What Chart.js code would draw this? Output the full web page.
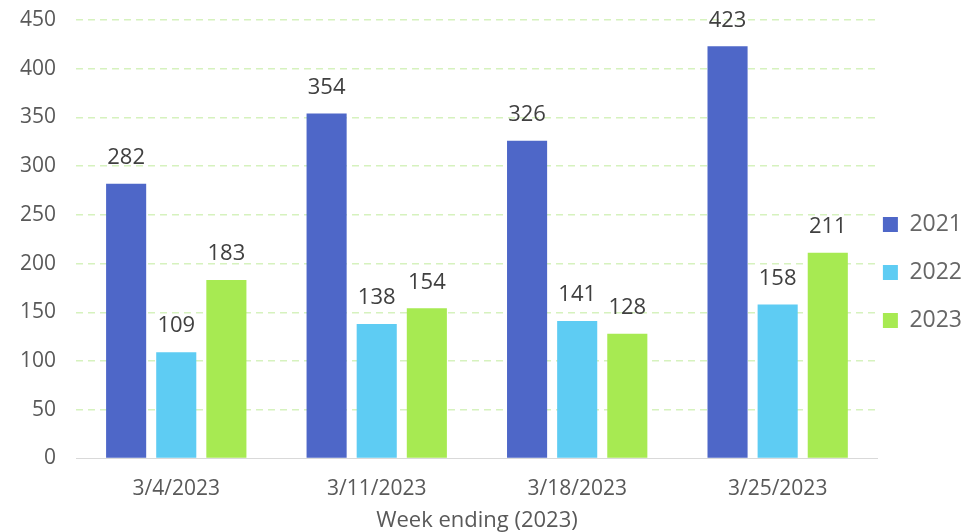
<!DOCTYPE html>
<html>
<head>
<meta charset="utf-8">
<script src="https://cdn.jsdelivr.net/npm/chart.js@4"></script>
<style>
  html, body { margin: 0; padding: 0; background: #fff; }
  #wrap { width: 976px; height: 532px; }
</style>
</head>
<body>
<div id="wrap"><canvas id="myChart"></canvas></div>
<script>
const weeks = ["3/4/2023", "3/11/2023", "3/18/2023", "3/25/2023"];
const years = ["2021", "2022", "2023"];
const values2021 = [282, 354, 326, 423];
const values2022 = [109, 138, 141, 158];
const values2023 = [183, 154, 128, 211];
const yTicks = [0, 50, 100, 150, 200, 250, 300, 350, 400, 450];

const colors = ["#4E67C8", "#5ECCF3", "#A7EA52"];
const fontName = "'Open Sans', sans-serif";

// labels above each bar
const barLabels = {
  id: "barLabels",
  afterDatasetsDraw(chart) {
    const ctx = chart.ctx;
    ctx.save();
    ctx.font = "22px " + fontName;
    ctx.fillStyle = "#404040";
    ctx.textAlign = "center";
    ctx.textBaseline = "middle";
    chart.data.datasets.forEach((ds, i) => {
      const meta = chart.getDatasetMeta(i);
      meta.data.forEach((bar, j) => {
        ctx.fillText(ds.data[j], bar.x, bar.y - 26);
      });
    });
    ctx.restore();
  },
};

const data = {
  labels: weeks,
  datasets: [
    { label: years[0], data: values2021, backgroundColor: colors[0] },
    { label: years[1], data: values2022, backgroundColor: colors[1] },
    { label: years[2], data: values2023, backgroundColor: colors[2] },
  ],
};

const config = {
  type: "bar",
  data: data,
  options: {
    responsive: true,
    maintainAspectRatio: false,
    animation: false,
    categoryPercentage: 0.75,
    barPercentage: 0.8,
    layout: {
      padding: { top: 20, left: 0, right: 4, bottom: 0 },
    },
    plugins: {
      tooltip: { enabled: false },
      legend: {
        position: "right",
        align: "center",
        title: { display: true, text: "", padding: 6.5, font: { size: 1, lineHeight: 0 } },
        labels: {
          boxWidth: 15,
          boxHeight: 15,
          padding: 5,
          color: "#595959",
          font: { family: fontName, size: 23, lineHeight: "43px" },
          generateLabels(chart) {
            return chart.data.datasets.map((ds, i) => ({
              text: [ds.label],
              fillStyle: ds.backgroundColor,
              strokeStyle: ds.backgroundColor,
              lineWidth: 0,
              hidden: false,
              datasetIndex: i,
            }));
          },
        },
      },
    },
    scales: {
      x: {
        grid: { display: false, drawTicks: false },
        border: { display: true, color: "#D9D9D9", width: 1 },
        ticks: {
          color: "#595959",
          padding: 18,
          font: { family: fontName, size: 21 },
        },
        title: {
          display: true,
          text: "Week ending (2023)",
          color: "#595959",
          padding: { top: -12, bottom: -2 },
          font: { family: fontName, size: 22 },
        },
      },
      y: {
        min: 0,
        max: 450,
        afterBuildTicks(scale) {
          scale.ticks = yTicks.map((v) => ({ value: v }));
        },
        afterFit(scale) {
          scale.paddingTop = 0;
        },
        border: { display: false, dash: [7, 5] },
        grid: {
          drawTicks: false,
          color: (c) => (c.tick && c.tick.value === 0 ? "rgba(0,0,0,0)" : "#D6F2BE"),
          lineWidth: 1.5,
        },
        ticks: {
          color: "#595959",
          padding: 20,
          font: { family: fontName, size: 21 },
        },
      },
    },
  },
  plugins: [barLabels],
};

const myChart = new Chart(document.getElementById("myChart"), config);
</script>
</body>
</html>
